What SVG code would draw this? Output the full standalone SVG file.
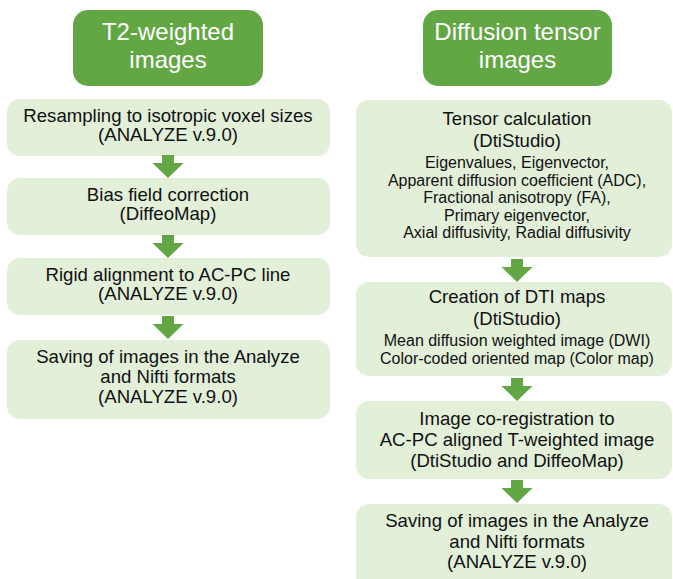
<svg xmlns="http://www.w3.org/2000/svg" width="673" height="579" viewBox="0 0 673 579">
  <defs>
    <style>
      .head { fill: #63a745; }
      .step { fill: #e2efd9; }
      .arrow { fill: #63a745; }
      text { font-family: "Liberation Sans", Arial, sans-serif; text-anchor: middle; fill: #111; }
      .ht { font-size: 24px; fill: #ffffff; }
      .t { font-size: 18.6px; }
      .s { font-size: 16px; }
    </style>
    <!-- down arrow, tip at (0,0) -->
    <path id="dn" d="M -6 -23 H 6 V -15 H 15.5 L 0 0 L -15.5 -15 H -6 Z"/>
  </defs>

  <rect width="673" height="579" fill="#ffffff"/>

  <!-- Left column: T2-weighted images -->
  <g id="t2-header">
    <rect class="head" x="73" y="10" width="190" height="76" rx="15"/>
    <text class="ht" x="168" y="40">T2-weighted</text>
    <text class="ht" x="168" y="68">images</text>
  </g>
  <g id="t2-resample">
    <rect class="step" x="7" y="99" width="323" height="57" rx="13"/>
    <text class="t" x="168" y="121.5">Resampling to isotropic voxel sizes</text>
    <text class="t" x="168" y="141">(ANALYZE v.9.0)</text>
  </g>
  <g id="t2-bias">
    <rect class="step" x="7" y="178" width="323" height="57" rx="13"/>
    <text class="t" x="168" y="200.5">Bias field correction</text>
    <text class="t" x="168" y="220">(DiffeoMap)</text>
  </g>
  <g id="t2-rigid">
    <rect class="step" x="7" y="258" width="323" height="57" rx="13"/>
    <text class="t" x="168" y="280.5">Rigid alignment to AC-PC line</text>
    <text class="t" x="168" y="300">(ANALYZE v.9.0)</text>
  </g>
  <g id="t2-save">
    <rect class="step" x="7" y="340" width="323" height="79" rx="13"/>
    <text class="t" x="168" y="362.7">Saving of images in the Analyze</text>
    <text class="t" x="168" y="383">and Nifti formats</text>
    <text class="t" x="168" y="403">(ANALYZE v.9.0)</text>
  </g>

  <!-- Right column: diffusion tensor images -->
  <g id="dti-header">
    <rect class="head" x="423" y="10" width="189" height="76" rx="15"/>
    <text class="ht" x="517.5" y="40">Diffusion tensor</text>
    <text class="ht" x="517.5" y="68">images</text>
  </g>
  <g id="dti-tensor">
    <rect class="step" x="356" y="100" width="316" height="157" rx="13"/>
    <text class="t" x="517" y="125">Tensor calculation</text>
    <text class="t" x="517" y="147">(DtiStudio)</text>
    <text class="s" x="517" y="168.3">Eigenvalues, Eigenvector,</text>
    <text class="s" x="517" y="185.7">Apparent diffusion coefficient (ADC),</text>
    <text class="s" x="517" y="203.1">Fractional anisotropy (FA),</text>
    <text class="s" x="517" y="220.5">Primary eigenvector,</text>
    <text class="s" x="517" y="237.9">Axial diffusivity, Radial diffusivity</text>
  </g>
  <g id="dti-maps">
    <rect class="step" x="356" y="282" width="316" height="94" rx="13"/>
    <text class="t" x="517" y="303.3">Creation of DTI maps</text>
    <text class="t" x="517" y="325">(DtiStudio)</text>
    <text class="s" x="517" y="346">Mean diffusion weighted image (DWI)</text>
    <text class="s" x="517" y="364">Color-coded oriented map (Color map)</text>
  </g>
  <g id="dti-coreg">
    <rect class="step" x="356" y="401" width="316" height="78" rx="13"/>
    <text class="t" x="517" y="425">Image co-registration to</text>
    <text class="t" x="517" y="446">AC-PC aligned T-weighted image</text>
    <text class="t" x="517" y="467.3">(DtiStudio and DiffeoMap)</text>
  </g>
  <g id="dti-save">
    <rect class="step" x="356" y="504" width="316" height="95" rx="13"/>
    <text class="t" x="517" y="527.3">Saving of images in the Analyze</text>
    <text class="t" x="517" y="548.3">and Nifti formats</text>
    <text class="t" x="517" y="568.3">(ANALYZE v.9.0)</text>
  </g>

  <!-- Connectors -->
  <g id="connectors" class="arrow">
    <use href="#dn" x="168" y="178"/>
    <use href="#dn" x="168" y="258"/>
    <use href="#dn" x="168" y="339"/>
    <use href="#dn" x="517" y="282"/>
    <use href="#dn" x="517" y="401"/>
    <use href="#dn" x="517" y="503"/>
  </g>
</svg>
